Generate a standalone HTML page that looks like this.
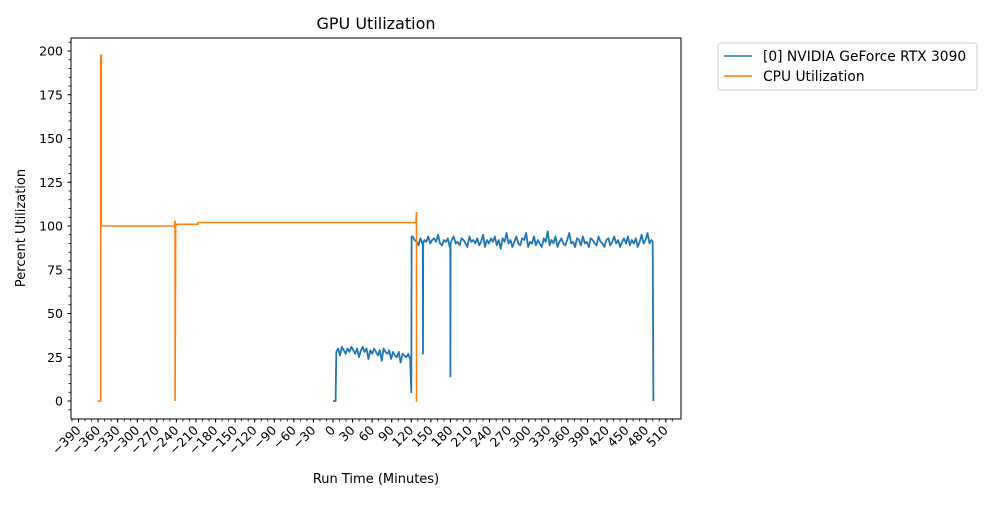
<!DOCTYPE html>
<html><head><meta charset="utf-8"><style>
body{margin:0;background:#fff;font-family:"Liberation Sans","DejaVu Sans",sans-serif}
svg text{font-family:"DejaVu Sans","Liberation Sans",sans-serif;fill:#000}
</style></head><body>
<svg id="c" width="1000" height="500" xmlns="http://www.w3.org/2000/svg">
<text x="376" y="29" font-size="16" text-anchor="middle">GPU Utilization</text>
<text x="376" y="483" font-size="13" text-anchor="middle">Run Time (Minutes)</text>
<text transform="translate(25,228) rotate(-90)" font-size="13" text-anchor="middle">Percent Utilization</text>
<g id="plot"></g>
<g>
<rect x="718" y="43" width="259" height="47" rx="3" fill="#fff" stroke="#ccc"/>
<line x1="724" y1="56" x2="752" y2="56" stroke="#1f77b4" stroke-width="1.6"/>
<text x="763" y="61" font-size="13.8">[0] NVIDIA GeForce RTX 3090</text>
<line x1="724" y1="76" x2="752" y2="76" stroke="#ff7f0e" stroke-width="1.6"/>
<text x="763" y="81" font-size="13.8">CPU Utilization</text>
</g>
</svg>
<script>
const xTicks=[-390,-360,-330,-300,-270,-240,-210,-180,-150,-120,-90,-60,-30,0,30,60,90,120,150,180,210,240,270,300,330,360,390,420,450,480,510];
const yTicks=[0,25,50,75,100,125,150,175,200];
const cpuTimes=[-361,-356,-356,-355,-355,-243,-242,-242,-241,-241,-207,-207,-206,127,128,128,129];
const cpuValues=[0,0,197,198,100,100,103,0,101,101,101,102,102,102,108,0,0];
const gpuLow=[28,30,26,31,29,27,30,28,31,29,27,30,25,29,31,28,30,24,29,27,30,28,26,29,23,30,28,27,29,24,28,26,25,28,22,27,26,25,27,24];
const gpuHigh=[94,92,91,89,93,90,92,91,94,90,92,93,91,95,90,89,92,91,93,88,92,94,90,91,89,93,92,90,88,94,91,92,90,93,89,91,95,88,92,90,93,91,94,89,92,87,93,91,96,90,92,88,91,94,90,89,93,92,96,88,91,90,94,89,92,90,88,93,91,97,89,92,90,94,88,91,93,90,89,92,96,90,91,88,93,92,89,94,90,91,88,93,92,90,89,94,91,90,88,92,93,89,91,94,90,92,88,91,93,90,94,89,92,90,93,88,91,95,90,92,96,90,92];
const gpuDips=[[120,5],[138,27],[180,14]];
const X=v=>333+v*0.6525, Y=v=>401-v*1.75;
const NS='http://www.w3.org/2000/svg';
const svg=document.getElementById('c'), plot=document.getElementById('plot');
function mk(t,a,p){const e=document.createElementNS(NS,t);for(const k in a)e.setAttribute(k,a[k]);(p||svg).appendChild(e);return e;}
let gt=[0,4,5],gv=[0,0,28];
gpuLow.forEach((v,i)=>{gt.push(5+i*2.9);gv.push(v);});
gt.push(120,120.5,121.5);gv.push(gpuDips[0][1],94,93);
gpuHigh.forEach((v,i)=>{let t=122+i*3;gt.push(t);gv.push(v);});
let pts=gt.map((t,i)=>[t,gv[i]]);
gpuDips.slice(1).forEach(d=>{pts.push([d[0]-0.3,90],[d[0],d[1]],[d[0]+0.3,90]);});
pts.push([490,91],[491,0]);
pts.sort((a,b)=>a[0]-b[0]);
const gl=mk('polyline',{points:pts.map(p=>X(p[0]).toFixed(1)+','+Y(p[1]).toFixed(1)).join(' '),fill:'none',stroke:'#1f77b4','stroke-width':1.8,'stroke-linejoin':'round'},plot);


const cl=mk('polyline',{points:cpuTimes.map((t,i)=>X(t).toFixed(1)+','+Y(cpuValues[i]).toFixed(1)).join(' '),fill:'none',stroke:'#ff7f0e','stroke-width':1.6},plot);


const fr=mk('rect',{x:71,y:38,width:610,height:381,fill:'none',stroke:'#000','stroke-width':1});


for(let m=-400;m<=520;m+=10){const x=X(m);if(x<71||x>681)continue;mk('line',{x1:x,y1:419,x2:x,y2:421.5,stroke:'#000','stroke-width':0.8});}
xTicks.forEach(v=>{const x=X(v);mk('line',{x1:x,y1:419,x2:x,y2:422.5,stroke:'#000'});
const t=mk('text',{x:x+3,y:431,'font-size':12.5,'text-anchor':'end',transform:`rotate(-45 ${x+3} 431)`});t.textContent=(v<0?'\u2212':'')+Math.abs(v);

});
for(let m=-5;m<=205;m+=5){const y=Y(m);if(y<38||y>419)continue;mk('line',{x1:68.5,y1:y,x2:71,y2:y,stroke:'#000','stroke-width':0.8});}
yTicks.forEach(v=>{const y=Y(v);mk('line',{x1:67.5,y1:y,x2:71,y2:y,stroke:'#000'});
const t=mk('text',{x:63,y:y+4.5,'font-size':12.5,'text-anchor':'end'});t.textContent=v;

});
</script>
</body></html>
